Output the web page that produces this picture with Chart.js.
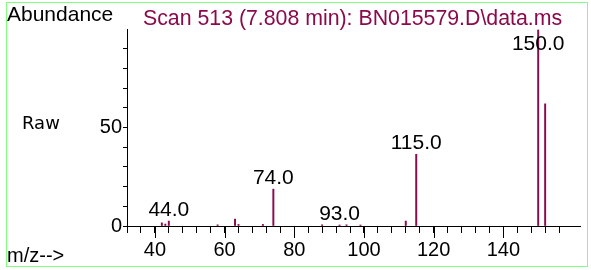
<!DOCTYPE html>
<html>
<head>
<meta charset="utf-8">
<script src="https://cdn.jsdelivr.net/npm/chart.js@4"></script>
<style>
  html, body { margin: 0; padding: 0; background: #fff; }
  #wrap { width: 591px; height: 270px; }
</style>
</head>
<body>
<div id="wrap"><canvas id="msChart" width="591" height="270"></canvas></div>
<script>
// spectrum values
const mzValues   = [42, 43, 44, 58, 63, 64, 71, 74, 88, 93, 95, 99, 112, 115, 150, 152];
const abundance  = [1.6, 1.0, 2.5, 0.6, 3.5, 0.8, 0.8, 18.7, 0.6, 0.5, 0.6, 0.5, 2.5, 36.4, 99.5, 62];
const peakLabels = [44, 74, 93, 115, 150];
const scanTitle  = 'Scan 513 (7.808 min): BN015579.D\\data.ms';

const peakColor = '#8b0a4b';
const sans = '"Liberation Sans", Arial, sans-serif';

const msDecor = {
    id: 'msDecor',
    afterDraw(chart) {
        const { ctx, chartArea, scales: { x, y } } = chart;
        ctx.save();

        // green frame
        ctx.strokeStyle = '#80ff80';
        ctx.lineWidth = 1;
        ctx.strokeRect(6.5, 2.5, 581, 264);

        // longer major ticks on the m/z axis
        ctx.strokeStyle = '#000';
        ctx.lineWidth = 1;
        x.ticks.forEach(t => {
            if (t.value % 20 !== 0) return;
            const px = Math.round(x.getPixelForValue(t.value)) + 0.5;
            ctx.beginPath();
            ctx.moveTo(px, chartArea.bottom);
            ctx.lineTo(px, chartArea.bottom + 12);
            ctx.stroke();
        });

        // side texts
        ctx.fillStyle = '#000';
        ctx.textAlign = 'left';
        ctx.textBaseline = 'alphabetic';
        ctx.font = '21px ' + sans;
        ctx.fillText('Abundance', 7, 21);
        ctx.font = '20px ' + sans;
        ctx.fillText('m/z-->', 7, 262);
        ctx.font = '18px "DejaVu Sans", sans-serif';
        ctx.fillText('Raw', 22, 129);

        ctx.fillStyle = peakColor;
        ctx.font = '21.3px ' + sans;
        ctx.fillText(scanTitle, 143, 25);

        // peak labels
        ctx.fillStyle = '#000';
        ctx.font = '21px ' + sans;
        ctx.textAlign = 'center';
        peakLabels.forEach(mz => {
            const i = mzValues.indexOf(mz);
            const px = x.getPixelForValue(mz);
            const top = y.getPixelForValue(abundance[i]);
            const base = Math.max(top - 5, chartArea.top + 21);
            ctx.fillText(mz.toFixed(1), px, base);
        });
        ctx.restore();
    }
};

new Chart(document.getElementById('msChart').getContext('2d'), {
    type: 'bar',
    data: {
        datasets: [{
            data: mzValues.map((m, i) => ({ x: m, y: abundance[i] })),
            backgroundColor: peakColor,
            barThickness: 1.3
        }]
    },
    options: {
        responsive: false,
        animation: false,
        devicePixelRatio: 1,
        layout: { padding: { top: 29, right: 11, left: 0, bottom: 0 } },
        plugins: { legend: { display: false }, tooltip: { enabled: false }, title: { display: false } },
        scales: {
            x: {
                type: 'linear',
                offset: false,
                min: 32,
                max: 162,
                afterBuildTicks: s => { s.ticks = s.ticks.filter(t => t.value % 4 === 0); },
                afterFit: s => { s.height = 44; },
                ticks: {
                    stepSize: 4,
                    autoSkip: false,
                    maxRotation: 0,
                    color: '#000',
                    padding: 5,
                    font: { family: sans, size: 20 },
                    callback: v => (v % 20 === 0 ? v : '')
                },
                grid: { offset: false, drawOnChartArea: false, tickLength: 7, color: '#000' },
                border: { display: true, color: '#000' }
            },
            y: {
                min: 0,
                max: 100,
                afterBuildTicks: s => { s.ticks = s.ticks.filter(t => t.value < 100); },
                afterFit: s => { s.width = 127; },
                ticks: {
                    stepSize: 10,
                    autoSkip: false,
                    color: '#000',
                    padding: 1,
                    font: { family: sans, size: 20 },
                    callback: v => (v % 50 === 0 ? v : '')
                },
                grid: { drawOnChartArea: false, tickLength: 4, color: '#000' },
                border: { display: true, color: '#000' }
            }
        }
    },
    plugins: [msDecor]
});
</script>
</body>
</html>
